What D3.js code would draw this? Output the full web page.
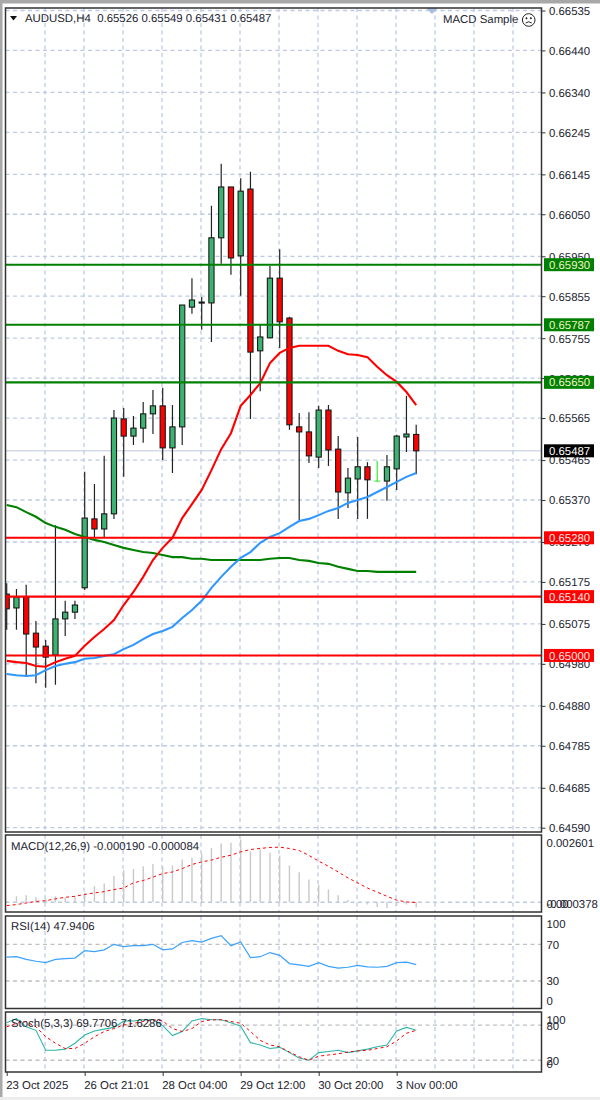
<!DOCTYPE html>
<html><head><meta charset="utf-8">
<script src="https://cdn.jsdelivr.net/npm/d3@7"></script>
<style>html,body{margin:0;padding:0;background:#fff;overflow:hidden}svg{display:block}text{font-family:"Liberation Sans",Arial,sans-serif;font-size:11.4px;fill:#1c2430;text-rendering:geometricPrecision}</style>
</head><body><svg id="c" width="600" height="1100"></svg>
<script>
const opens=[65146,65113,65139,65053,65022,65001,65087,65103,65161,65325,65301,65337,65563,65522,65541,65575,65594,65494,65544,65829,65839,65839,65994,66115,65951,66110,65725,65756,65898,65803,65544,65532,65472,65584,65491,65387,65420,65449,65415,65415,65444,65520,65526];
const highs=[65172,65158,65168,65082,65037,65310,65130,65130,65437,65408,65475,65584,65589,65570,65603,65632,65637,65596,65834,65898,65853,66070,66170,66115,66136,66151,65787,65927,65967,65806,65577,65579,65594,65596,65522,65446,65520,65460,65463,65477,65525,65618,65549];
const lows=[65061,65061,64953,64934,64923,64930,65046,65087,65156,65280,65282,65325,65425,65501,65506,65527,65465,65434,65501,65813,65775,65746,65932,65906,65856,65563,65629,65756,65732,65537,65322,65458,65446,65451,65325,65351,65325,65325,65413,65368,65394,65484,65431];
const closes=[65111,65139,65051,65020,64996,65087,65103,65120,65327,65301,65337,65565,65522,65541,65575,65594,65494,65544,65834,65846,65841,65994,66115,65946,66105,65722,65758,65898,65794,65549,65532,65475,65584,65489,65389,65422,65449,65418,65415,65449,65522,65527,65487];
const maRed=[64987,64984,64982,64975,64973,64984,64992,64999,65023,65044,65063,65084,65120,65151,65187,65227,65256,65280,65327,65360,65394,65441,65491,65529,65594,65620,65648,65696,65720,65732,65737,65737,65737,65737,65725,65717,65715,65710,65687,65667,65651,65627,65596];
const maBlue=[64956,64953,64951,64953,64965,64975,64980,64984,64992,64994,64999,65003,65015,65025,65039,65051,65058,65068,65089,65108,65130,65161,65187,65211,65232,65246,65268,65282,65291,65306,65320,65325,65334,65344,65351,65363,65370,65377,65389,65401,65413,65425,65434];
const maGreen=[65358,65353,65341,65330,65315,65306,65299,65289,65282,65275,65270,65263,65256,65251,65246,65244,65239,65234,65234,65230,65230,65227,65227,65227,65227,65227,65227,65230,65232,65232,65227,65225,65220,65218,65211,65206,65201,65201,65199,65199,65199,65199,65199];
const priceTicks=[66535,66440,66340,66245,66145,66050,65950,65855,65755,65660,65565,65465,65370,65270,65175,65075,64980,64880,64785,64685,64590];
const greenLevels=[65930,65787,65650];
const redLevels=[65280,65140,65000];
const bidPrice=65487;
const macdHist=[.00004,.00023,.00027,.00019,.00014,.00023,.00017,.00023,.00036,.00062,.00072,.00101,.00124,.00129,.00139,.00148,.00137,.00142,.00165,.00172,.00188,.00210,.00227,.00230,.00243,.00197,.00204,.00191,.00181,.00142,.00116,.00088,.00068,.00049,.00027,.00010,0,-.00009,-.00018,-.00022,-.00013,-.00009,-.00019];
const macdSignal=[-.00013,-.00009,-.00003,.00003,.00006,.00013,.00019,.00023,.00030,.00036,.00041,.00049,.00055,.00075,.00084,.00097,.00111,.00117,.00130,.00146,.00156,.00163,.00174,.00182,.00195,.00204,.00208,.00212,.00213,.00208,.00200,.00181,.00159,.00139,.00117,.00094,.00075,.00055,.00039,.00023,.00008,.00001,-.00001];
const rsi=[56,56.5,53.6,51.5,50,53.6,54.4,55,63,62,64,70,67.5,68.5,68.5,70,64,65,72,74,72.5,76.5,79.5,68.5,72.5,55.5,56.5,61,58,49,47.5,46,50,46,44,45,47,45.5,45,46,50,50.5,47.9];
const stochMain=[84,91,77,71,37,37,39,49,63,70,73,76,87,87,89,89,79,62,69,87,91,89,89,84,78,50,46,40,42,33,24,20,33,35,37,33,36,39,43,46,70,76,71];
const stochSignal=[77,83,86,77,60,49,40,40,49,60,69,74,80,83,86,89,87,74,69,74,86,89,89,86,83,69,54,46,43,34,26,20,27,29,31,34,36,37,40,43,53,66,71];
const timeTickIdx=[0,8,16,24,32,40];
const timeLabels=["23 Oct 2025","26 Oct 21:01","28 Oct 04:00","29 Oct 12:00","30 Oct 20:00","3 Nov 00:00"];
const titleText="AUDUSD,H4  0.65526 0.65549 0.65431 0.65487";

const L=5.5,R=541.5,gridColor="#bccbe3",frameColor="#333";
const svg=d3.select("#c");
const fp=v=>(v/1e5).toFixed(5);
const x=d3.scaleLinear().domain([0,42]).range([6.7,416.2]);
const y=d3.scaleLinear().domain([64590,66535]).range([827.7,10.5]);
const panes={
 main:{t:8,b:832},
 macd:{t:835,b:912},
 rsi:{t:916,b:1008.5},
 stoch:{t:1012,b:1072}
};
const yMacd=d3.scaleLinear().domain([-.000378,.002601]).range([912,835]);
const yRsi=d3.scaleLinear().domain([0,100]).range([1008.5,916.8]);
const yStoch=d3.scaleLinear().domain([0,100]).range([1072,1013.3]);

// window chrome
svg.append("rect").attr("width",600).attr("height",1100).attr("fill","#fff");
svg.append("rect").attr("width",600).attr("height",3.5).attr("fill","#a8a8a8");
svg.append("rect").attr("width",2.5).attr("height",1100).attr("fill","#a8a8a8");
svg.append("rect").attr("y",1097).attr("width",600).attr("height",3).attr("fill","#ececec");

const defs=svg.append("defs");
Object.entries(panes).forEach(([k,p])=>{
  defs.append("clipPath").attr("id","clip-"+k).append("rect").attr("x",L).attr("y",p.t).attr("width",R-L).attr("height",p.b-p.t);
});
const gridIdx=d3.range(4,53,4);
function vgrid(g,p){
  g.selectAll("line.v").data(gridIdx).join("line").attr("class","v")
   .attr("x1",d=>x(d)-.7).attr("x2",d=>x(d)-.7).attr("y1",p.t).attr("y2",p.b)
   .attr("stroke",gridColor).attr("stroke-width",1.3).attr("stroke-dasharray","4,3.5");
}
function hgrid(g,vals,sc,col){
  g.selectAll("line.h").data(vals).join("line").attr("class","h")
   .attr("x1",L).attr("x2",R).attr("y1",d=>sc(d)).attr("y2",d=>sc(d))
   .attr("stroke",col||gridColor).attr("stroke-width",1.3).attr("stroke-dasharray","4,3.5");
}
const lineOf=(arr,sc)=>d3.line().x((d,i)=>x(i)).y(d=>sc(d))(arr);

// MAIN
const gm=svg.append("g").attr("clip-path","url(#clip-main)");
vgrid(gm,panes.main); hgrid(gm,priceTicks,y);
gm.append("line").attr("x1",L).attr("x2",R).attr("y1",y(bidPrice)).attr("y2",y(bidPrice)).attr("stroke","#bcc8dc").attr("stroke-width",1);

opens.forEach((o,i)=>{
  const c=closes[i],cx=x(i),doji=o===c;
  const up=c>=o;
  const col=doji?"#33ee33":(up?"#3cb371":"#ff0000");
  gm.append("line").attr("x1",cx).attr("x2",cx).attr("y1",y(highs[i])).attr("y2",y(lows[i]))
    .attr("stroke",doji?"#33ee33":"#222").attr("stroke-width",1.2);
  if(doji){
    gm.append("line").attr("x1",cx-3).attr("x2",cx+3).attr("y1",y(o)).attr("y2",y(o)).attr("stroke",col).attr("stroke-width",1);
  }else{
    const top=y(Math.max(o,c)),bot=y(Math.min(o,c));
    gm.append("rect").attr("x",cx-2.6).attr("width",5.2).attr("y",top).attr("height",Math.max(bot-top,1))
      .attr("fill",col).attr("stroke","#1a1a1a").attr("stroke-width",1.1);
  }
});
[[maGreen,"#008000"],[maBlue,"#2f97ff"],[maRed,"#ff0000"]].forEach(([a,c])=>{
  gm.append("path").attr("d",lineOf(a,y)).attr("fill","none").attr("stroke",c).attr("stroke-width",2.1);
});
greenLevels.forEach(v=>gm.append("line").attr("x1",L).attr("x2",R).attr("y1",y(v)).attr("y2",y(v)).attr("stroke","#008000").attr("stroke-width",2.1));
redLevels.forEach(v=>gm.append("line").attr("x1",L).attr("x2",R).attr("y1",y(v)).attr("y2",y(v)).attr("stroke","#ff0000").attr("stroke-width",2.1));

// top shift marker
svg.append("path").attr("d",d3.line()([[426,8],[438,8],[432,14]])).attr("fill","#a9bedc");

// MACD
const g1=svg.append("g").attr("clip-path","url(#clip-macd)");
vgrid(g1,panes.macd); hgrid(g1,[0],yMacd);
g1.selectAll("line.b").data(macdHist).join("line").attr("class","b")
  .attr("x1",(d,i)=>x(i)).attr("x2",(d,i)=>x(i)).attr("y1",yMacd(0)).attr("y2",d=>yMacd(d))
  .attr("stroke","#c8c8c8").attr("stroke-width",1.4);
g1.append("path").attr("d",lineOf(macdSignal,yMacd)).attr("fill","none").attr("stroke","#ff0000").attr("stroke-width",1).attr("stroke-dasharray","3,3");

// RSI
const g2=svg.append("g").attr("clip-path","url(#clip-rsi)");
vgrid(g2,panes.rsi); hgrid(g2,[70,30],yRsi,"#c0c0c0");
g2.append("path").attr("d",lineOf(rsi,yRsi)).attr("fill","none").attr("stroke","#3ba2ff").attr("stroke-width",1.2);

// STOCH
const g3=svg.append("g").attr("clip-path","url(#clip-stoch)");
vgrid(g3,panes.stoch); hgrid(g3,[80,20],yStoch,"#c0c0c0");
g3.append("path").attr("d",lineOf(stochMain,yStoch)).attr("fill","none").attr("stroke","#2fb5aa").attr("stroke-width",1.1);
g3.append("path").attr("d",lineOf(stochSignal,yStoch)).attr("fill","none").attr("stroke","#ff0000").attr("stroke-width",1).attr("stroke-dasharray","3,3");

// frames
Object.values(panes).forEach(p=>{
  svg.append("rect").attr("x",L).attr("y",p.t).attr("width",R-L).attr("height",p.b-p.t)
    .attr("fill","none").attr("stroke",frameColor).attr("stroke-width",1.5);
});

// price axis
const axM=svg.append("g").attr("transform",`translate(${R},0)`)
  .call(d3.axisRight(y).tickValues(priceTicks).tickFormat(fp).tickSize(4).tickPadding(4));
axM.select(".domain").remove();
axM.selectAll(".tick line").attr("stroke","#333");
axM.selectAll("text").attr("dy","0.34em").attr("x",7.5).style("font-size","11.4px").style("font-family",'"Liberation Sans",Arial,sans-serif');

function box(v,bg,fg){
  const g=svg.append("g").attr("transform",`translate(544,${y(v)})`);
  g.append("rect").attr("y",-6.5).attr("width",50).attr("height",13).attr("fill",bg);
  g.append("text").attr("x",5).attr("dy","0.36em").style("fill",fg).text(fp(v));
}
greenLevels.forEach(v=>box(v,"#008000","#f2f2c8"));
redLevels.forEach(v=>box(v,"#ff0000","#ffe6e6"));
box(bidPrice,"#000","#fff");

// sub-pane axis labels (MT4 clamps them inside the pane)
const sideLabels=[["0.002601",843],["0.00",903.5],["-0.000378",904],["100",924],["70",945],["30",981],["0",1001],["100",1020],["80",1026],["20",1060.5],["0",1064]];
svg.append("g").selectAll("text").data(sideLabels).join("text")
  .attr("x",546.5).attr("y",d=>d[1]).attr("dy","0.36em").text(d=>d[0]);

// time axis
const axT=svg.append("g").attr("transform","translate(0,1072)")
  .call(d3.axisBottom(x).tickValues(timeTickIdx).tickFormat((d,i)=>timeLabels[i]).tickSize(4).tickPadding(5));
axT.select(".domain").remove();
axT.selectAll(".tick line").attr("stroke","#333");
axT.selectAll("text").attr("text-anchor","start").attr("x",-1).style("font-size","11.4px").style("font-family",'"Liberation Sans",Arial,sans-serif');

// titles
svg.append("path").attr("d",d3.line()([[10,16],[17,16],[13.5,20.5]])).attr("fill","#111");
svg.append("text").attr("x",25).attr("y",22).attr("xml:space","preserve").style("white-space","pre").text(titleText);
svg.append("text").attr("x",443).attr("y",23).text("MACD Sample");
const face=svg.append("g").attr("transform","translate(528.7,20)").attr("fill","none").attr("stroke","#222");
face.append("circle").attr("r",6.3);
face.append("circle").attr("cx",-2.2).attr("cy",-1.8).attr("r",.6).attr("fill","#222");
face.append("circle").attr("cx",2.2).attr("cy",-1.8).attr("r",.6).attr("fill","#222");
face.append("path").attr("d","M-3,3 Q0,0.5 3,3");
svg.append("text").attr("x",11).attr("y",850).text("MACD(12,26,9) -0.000190 -0.000084");
svg.append("text").attr("x",11).attr("y",930).text("RSI(14) 47.9406");
svg.append("text").attr("x",11).attr("y",1027).text("Stoch(5,3,3) 69.7706 71.6286");
</script></body></html>
